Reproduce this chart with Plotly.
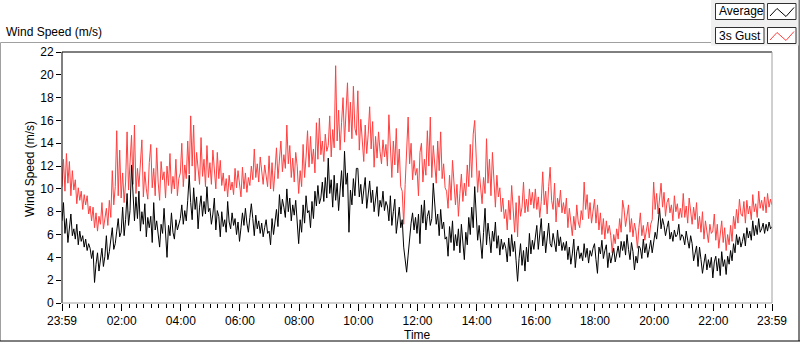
import plotly.graph_objects as go
import pandas as pd

# ---------------- data ----------------
START = "2024-01-01 23:59"
END = "2024-01-02 23:59"
STEP = "3min"

GUST = [
    10.2, 12.6, 9.8, 13.1, 10.5, 12.4, 9.4, 11.6, 9.9, 10.8, 8.7, 10.1, 9.0, 9.8, 8.2, 9.5, 8.6, 9.4, 7.8, 8.5,
    7.2, 8.4, 6.6, 7.9, 6.3, 7.6, 6.9, 8.8, 6.5, 7.4, 8.3, 6.8, 9.0, 7.5, 11.6, 8.6, 10.2, 15.1, 9.4, 13.4,
    9.2, 11.4, 8.8, 10.6, 15.0, 9.9, 12.2, 14.7, 10.4, 15.6, 9.6, 11.8, 10.2, 12.8, 14.3, 9.3, 11.5, 10.0, 9.1, 12.3,
    13.9, 10.1, 11.8, 9.4, 13.6, 10.6, 9.0, 12.4, 10.8, 11.5, 9.2, 12.0, 10.3, 13.1, 9.6, 11.1, 10.0, 12.6, 9.4, 10.9,
    11.4, 14.0, 10.2, 12.1, 10.9, 14.2, 11.3, 16.4, 12.0, 15.6, 10.7, 13.2, 11.6, 10.4, 14.5, 11.1, 12.6, 10.2, 13.8, 11.0,
    12.3, 10.4, 13.4, 11.2, 10.0, 13.2, 10.9, 12.5, 10.3, 11.4, 9.8, 10.9, 9.3, 11.2, 9.9, 10.6, 9.5, 11.8, 10.1, 11.6,
    10.4, 9.3, 11.9, 10.0, 11.4, 9.7, 11.0, 10.3, 12.0, 10.8, 13.5, 11.0, 12.2, 10.6, 12.8, 11.3, 10.4, 12.1, 10.9, 10.2,
    12.9, 10.0, 12.3, 9.8, 11.6, 13.6, 10.9, 12.4, 14.2, 11.5, 13.0, 11.8, 15.6, 12.2, 13.8, 11.0, 12.7, 10.6, 13.2, 12.0,
    9.6, 11.6, 10.2, 13.9, 11.0, 12.8, 15.1, 11.9, 14.6, 12.2, 13.5, 11.4, 15.8, 12.6, 16.2, 13.0, 14.2, 12.4, 14.8, 13.3,
    13.8, 16.4, 12.8, 15.2, 13.6, 20.8, 14.2, 16.9, 13.4, 15.8, 18.0, 14.1, 16.7, 19.3, 15.0, 17.6, 14.4, 19.0, 15.3, 14.7,
    18.6, 13.4, 16.1, 14.0, 12.4, 15.6, 13.1, 14.8, 17.2, 13.5, 15.9, 11.9, 14.6, 12.7, 15.0, 13.3, 12.2, 14.3, 12.8, 13.9,
    12.0, 16.5, 13.2, 11.0, 14.2, 12.1, 15.3, 11.4, 13.5, 10.2, 9.8, 6.9, 10.4, 12.8, 16.3, 12.2, 14.0, 10.8, 12.5, 11.2,
    11.8, 9.4, 13.2, 14.0, 10.6, 12.6, 11.2, 15.1, 12.0, 16.3, 11.0, 13.8, 12.3, 10.5, 14.2, 11.6, 15.0, 10.9, 12.2, 10.1,
    9.8, 8.3, 11.2, 9.0, 12.5, 10.1, 8.6, 10.4, 7.6, 9.6, 11.3, 8.9, 10.5, 9.4, 12.1, 10.2, 13.9, 11.0, 14.8, 16.0,
    12.4, 9.7, 11.6, 10.2, 8.7, 11.0, 9.6, 14.4, 10.5, 12.6, 9.4, 13.2, 10.8, 8.4, 11.2, 9.3, 10.1, 8.0, 9.2, 7.4,
    8.2, 6.4, 9.0, 7.3, 10.3, 8.1, 6.2, 8.8, 5.8, 9.4, 7.6, 8.4, 10.6, 7.9, 9.1, 8.0, 10.0, 8.6, 9.7, 8.3,
    10.0, 8.2, 9.3, 7.5, 8.9, 11.5, 8.6, 9.8, 7.8, 10.2, 11.9, 9.0, 8.2, 10.5, 7.1, 9.2, 8.4, 9.9, 7.9, 8.8,
    7.8, 9.2, 6.6, 8.3, 7.0, 5.9, 7.6, 6.4, 8.6, 7.1, 6.6, 8.1, 7.3, 10.6, 8.2, 9.5, 7.4, 8.8, 7.0, 7.9,
    9.1, 7.0, 8.6, 6.4, 7.9, 6.0, 7.4, 5.6, 7.2, 6.1, 6.8, 5.9, 4.4, 6.0, 5.2, 6.5, 5.6, 7.4, 6.2, 9.0,
    8.2, 6.7, 7.6, 8.6, 6.2, 7.4, 5.8, 7.0, 6.3, 4.8, 6.6, 7.9, 5.9, 6.8, 5.5, 6.4, 7.1, 5.7, 6.9, 7.3,
    10.6, 8.2, 9.6, 7.8, 9.3, 10.5, 8.4, 9.7, 7.6, 8.8, 9.2, 7.9, 8.6, 7.2, 9.4, 8.0, 8.7, 7.4, 8.3, 7.5,
    9.6, 7.5, 8.5, 7.0, 9.2, 7.8, 6.9, 8.4, 7.3, 8.8, 6.5, 7.6, 6.2, 8.0, 5.6, 7.2, 6.4, 5.3, 6.9, 6.1,
    6.3, 7.8, 5.5, 6.9, 4.8, 6.4, 7.2, 5.3, 6.6, 4.6, 6.0, 5.1, 6.8, 5.4, 7.6, 6.5, 8.2, 7.0, 9.1, 7.8,
    7.6, 8.9, 7.0, 9.0, 7.8, 8.5, 7.3, 9.5, 8.0, 8.7, 7.5, 9.8, 8.3, 9.0, 8.1, 9.3, 7.9, 9.6, 8.4, 9.1, 8.6,
]

AVERAGE = [
    7.2, 8.8, 6.1, 7.4, 5.3, 6.8, 7.8, 5.9, 6.5, 5.6, 6.9, 5.1, 6.3, 5.4, 5.9, 4.9, 5.6, 4.6, 5.2, 4.8,
    3.9, 4.6, 1.8, 3.4, 4.4, 2.8, 3.7, 4.8, 3.2, 4.1, 5.9, 3.8, 4.5, 5.4, 6.6, 4.7, 5.2, 6.3, 7.4, 5.8,
    6.2, 8.4, 5.9, 7.3, 9.6, 6.8, 8.1, 12.1, 8.9, 7.2, 9.3, 7.4, 9.8, 6.3, 8.0, 6.9, 8.7, 5.8, 7.5, 6.6,
    7.6, 5.3, 8.8, 6.4, 7.2, 5.7, 4.9, 6.9, 6.1, 8.3, 5.5, 4.0, 6.8, 5.9, 7.9, 6.2, 5.6, 7.3, 6.4, 7.0,
    7.4, 8.6, 6.9, 8.1, 7.2, 9.0, 11.2, 8.8, 7.3, 10.1, 8.2, 9.3, 6.5, 8.4, 9.4, 7.6, 8.9, 7.8, 10.2, 8.0,
    8.3, 6.9, 7.8, 9.2, 6.4, 8.1, 7.6, 5.8, 8.0, 6.7, 7.3, 6.2, 8.9, 7.1, 6.5, 7.9, 6.8, 7.4, 6.0, 7.1,
    5.4, 6.6, 7.9, 6.8, 8.3, 7.0, 6.2, 7.5, 8.7, 7.4, 5.9, 7.7, 6.5, 7.2, 6.1, 7.0, 5.8, 6.6, 7.3, 6.1,
    6.3, 5.1, 7.4, 6.0, 7.1, 8.2, 6.7, 9.5, 7.8, 9.1, 8.4, 7.5, 10.0, 8.0, 9.2, 7.2, 8.6, 7.7, 9.0, 7.2,
    5.2, 7.3, 6.2, 8.6, 7.0, 9.4, 7.9, 8.1, 6.6, 8.9, 7.4, 9.8, 8.5, 10.3, 8.7, 9.2, 10.6, 8.9, 11.0, 9.2,
    12.7, 9.6, 10.8, 8.4, 11.2, 9.0, 10.5, 8.1, 9.8, 11.6, 9.3, 13.3, 10.4, 11.4, 6.2, 9.9, 8.6, 10.9, 9.4, 11.8,
    11.8, 9.3, 10.4, 8.7, 9.9, 11.0, 8.3, 9.6, 10.7, 8.8, 9.9, 8.0, 9.1, 10.2, 7.6, 9.0, 8.4, 9.8, 8.1, 8.9,
    8.5, 7.2, 9.4, 6.8, 8.0, 9.1, 6.1, 7.6, 8.4, 6.6, 7.3, 4.9, 3.6, 2.7, 4.2, 5.8, 7.0, 7.9, 6.4, 7.5,
    6.1, 7.8, 5.2, 8.6, 7.0, 9.0, 6.4, 7.6, 8.1, 6.8, 7.4, 10.5, 8.8, 6.9, 7.8, 5.9, 8.2, 6.5, 7.1, 5.6,
    5.8, 4.1, 6.7, 5.3, 7.2, 4.6, 6.0, 5.0, 6.5, 4.4, 6.9, 5.6, 3.8, 6.2, 5.1, 7.5, 6.0, 8.4, 6.6, 10.2,
    7.9, 5.5, 6.8, 4.9, 3.9, 6.2, 8.3, 5.1, 7.0, 5.8, 4.4, 6.3, 5.4, 7.1, 4.8, 5.9, 4.2, 5.6, 4.7, 5.3,
    4.8, 3.6, 5.7, 4.1, 6.0, 4.5, 5.4, 3.7, 1.9, 3.9, 5.2, 3.3, 4.6, 2.8, 4.9, 3.6, 6.1, 4.3, 5.5, 4.7,
    5.6, 6.8, 4.7, 5.9, 7.4, 5.0, 6.3, 4.4, 5.7, 7.0, 5.2, 4.9, 6.1, 5.3, 4.5, 6.4, 5.0, 5.8, 4.6, 5.3,
    4.6, 5.4, 3.8, 4.9, 3.4, 4.3, 5.6, 3.1, 4.5, 5.0, 3.9, 4.4, 3.7, 5.2, 4.0, 4.8, 3.5, 4.6, 4.1, 4.8,
    5.2, 3.8, 2.6, 4.9, 4.3, 5.5, 3.9, 4.6, 5.1, 3.1, 4.4, 3.5, 4.2, 4.8, 3.6, 4.5, 5.0, 4.0, 5.4, 4.6,
    5.4, 4.2, 6.0, 4.7, 3.8, 5.3, 4.5, 2.9, 4.1, 3.5, 5.0, 4.8, 3.9, 5.6, 4.4, 5.2, 4.0, 4.7, 5.5, 4.4,
    5.3, 6.2, 5.6, 7.1, 8.3, 6.5, 7.4, 6.8, 5.9, 6.6, 7.2, 5.6, 6.2, 5.4, 6.4, 5.8, 6.0, 6.9, 5.5, 6.0,
    5.8, 5.1, 6.3, 5.5, 4.8, 5.9, 5.2, 3.7, 4.4, 5.0, 3.2, 4.9, 3.8, 2.6, 3.5, 4.3, 2.9, 3.8, 3.1, 4.0,
    2.2, 3.6, 4.1, 2.8, 3.9, 2.4, 4.5, 3.2, 3.8, 2.5, 4.1, 3.4, 4.6, 3.7, 5.2, 4.4, 6.0, 5.1, 5.8, 4.9,
    5.4, 6.1, 5.0, 6.6, 5.7, 6.3, 5.5, 7.2, 5.9, 6.8, 6.0, 7.4, 6.2, 6.5, 7.0, 6.1, 6.9, 6.3, 7.1, 6.5, 6.7,
]

TICK_TIMES = [
    "2024-01-01 23:59", "2024-01-02 02:00", "2024-01-02 04:00", "2024-01-02 06:00",
    "2024-01-02 08:00", "2024-01-02 10:00", "2024-01-02 12:00", "2024-01-02 14:00",
    "2024-01-02 16:00", "2024-01-02 18:00", "2024-01-02 20:00", "2024-01-02 22:00",
    "2024-01-02 23:59",
]
TICK_LABELS = ["23:59", "02:00", "04:00", "06:00", "08:00", "10:00", "12:00",
               "14:00", "16:00", "18:00", "20:00", "22:00", "23:59"]
Y_RANGE = [0, 22]
Y_STEP = 2

SERIES_NAMES = ["Average", "3s Gust"]
SERIES_COLORS = ["#000000", "#ff4040"]

# ---------------- layout helpers ----------------
W, H = 800, 342
L, R, T, B = 62, 28, 52, 39
PW, PH = W - L - R, H - T - B
FONT = "Liberation Sans, Arial, sans-serif"


def px(x):
    return (x - L) / PW


def py(y):
    return (H - B - y) / PH


times = pd.date_range(START, periods=len(GUST), freq=STEP)

fig = go.Figure()
fig.add_trace(go.Scatter(x=times, y=GUST, mode="lines", name=SERIES_NAMES[1],
                         line=dict(color=SERIES_COLORS[1], width=1)))
fig.add_trace(go.Scatter(x=times, y=AVERAGE, mode="lines", name=SERIES_NAMES[0],
                         line=dict(color=SERIES_COLORS[0], width=1)))

shapes = []


def seg(x0, y0, x1, y1, color, width=1):
    shapes.append(dict(type="line", xref="paper", yref="paper",
                       x0=px(x0), y0=py(y0), x1=px(x1), y1=py(y1),
                       line=dict(color=color, width=width), layer="above"))


def rect(x0, y0, x1, y1, fill, line_color=None, layer="above"):
    shapes.append(dict(type="rect", xref="paper", yref="paper",
                       x0=px(x0), y0=py(y0), x1=px(x1), y1=py(y1),
                       fillcolor=fill,
                       line=dict(color=line_color or fill, width=1 if line_color else 0),
                       layer=layer))


# outer 3D frame
seg(0.5, 42.5, 711, 42.5, "#a0a0a0")
seg(0.5, 42.5, 0.5, 341, "#a0a0a0")
seg(0, 341, 800, 341, "#000000")
seg(799, 0, 799, 341, "#000000")

# plot-area border
seg(62, 52, 772, 52, "#000000")
seg(62, 52, 62, 303, "#000000")
seg(772, 52, 772, 303, "#a0a0a0")
seg(62, 303, 772, 303, "#a0a0a0")

# legend panel
rect(711, 0, 798.5, 45.5, "#f0f0f0")
boxes = [(3.5, 19.5), (27.5, 43.5)]
for (y0, y1) in boxes:
    rect(715.5, y0, 764, y1, "#ffffff", "#303030")
    rect(767.5, y0, 796, y1, "#ffffff", "#303030")


def zig(yoff, color):
    pts = [(770, 16 + yoff), (777, 8.5 + yoff), (786, 16.5 + yoff), (794, 7.5 + yoff)]
    path = "M " + " L ".join(f"{px(a)},{py(b)}" for a, b in pts)
    shapes.append(dict(type="path", xref="paper", yref="paper", path=path,
                       line=dict(color=color, width=1), layer="above"))


zig(0, SERIES_COLORS[0])
zig(24, SERIES_COLORS[1])

annotations = [
    dict(text="Wind Speed (m/s)", x=px(4), y=py(31.5), xanchor="left", yanchor="middle"),
    dict(text="Wind Speed (m/s)", x=px(30), y=py(169), xanchor="center", yanchor="middle",
         textangle=-90),
    dict(text="Time", x=px(417), y=py(334.5), xanchor="center", yanchor="middle"),
    dict(text=SERIES_NAMES[0], x=px(717), y=py(11.5), xanchor="left", yanchor="middle"),
    dict(text=SERIES_NAMES[1], x=px(717), y=py(35.5), xanchor="left", yanchor="middle"),
]
for a in annotations:
    a.update(xref="paper", yref="paper", showarrow=False,
             font=dict(family=FONT, size=12, color="#000000"))

fig.update_layout(
    width=W, height=H,
    margin=dict(l=L, r=R, t=T, b=B, pad=0),
    paper_bgcolor="#ffffff", plot_bgcolor="#ffffff",
    showlegend=False,
    hovermode=False,
    shapes=shapes,
    annotations=annotations,
    font=dict(family=FONT, size=12, color="#000000"),
    xaxis=dict(
        type="date", range=[START, END],
        tickmode="array", tickvals=TICK_TIMES, ticktext=TICK_LABELS,
        ticks="outside", ticklen=7, tickwidth=1, tickcolor="#000000",
        showgrid=False, zeroline=False, showline=False,
        tickfont=dict(family=FONT, size=12, color="#000000"),
        minor=dict(tickmode="linear", tick0="2024-01-02 00:00", dtick=15 * 60 * 1000,
                   ticks="outside", ticklen=4, tickcolor="#000000", showgrid=False),
    ),
    yaxis=dict(
        range=Y_RANGE, tickmode="linear", tick0=0, dtick=Y_STEP,
        ticks="outside", ticklen=5, tickwidth=1, tickcolor="#000000",
        showgrid=False, zeroline=False, showline=False,
        tickfont=dict(family=FONT, size=12, color="#000000"),
    ),
)

fig.write_html(
    "out.html",
    config={"displayModeBar": False, "staticPlot": True},
    post_script="document.body.style.margin='0';document.body.style.overflow='hidden';",
)
